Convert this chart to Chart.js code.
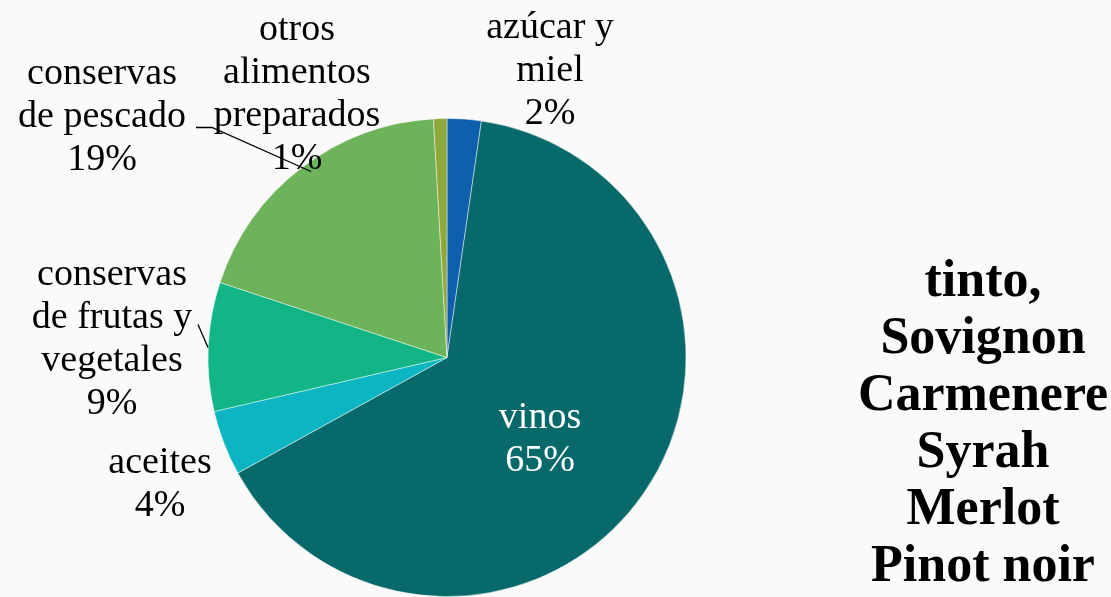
<!DOCTYPE html>
<html>
<head>
<meta charset="utf-8">
<script src="https://cdn.jsdelivr.net/npm/chart.js@4.4.0/dist/chart.umd.min.js"></script>
<style>
  html, body { margin: 0; padding: 0; background: #fafafa; }
  #wrap { position: relative; width: 1111px; height: 597px; overflow: hidden; }
  #pie { position: absolute; left: 0; top: 0; }
  #side {
    position: absolute; left: 855px; top: 250px; width: 256px;
    font-family: "Liberation Serif", serif; font-weight: bold;
    font-size: 52px; line-height: 57px; text-align: center; color: #000;
    white-space: nowrap;
  }
</style>
</head>
<body>
<div id="wrap">
  <canvas id="pie" width="1111" height="597"></canvas>
  <div id="side">tinto,<br>Sovignon<br>Carmenere<br>Syrah<br>Merlot<br>Pinot noir</div>
</div>
<script>
// slices, clockwise from the top
var categories = ['azúcar y miel', 'vinos', 'aceites', 'conservas de frutas y vegetales', 'conservas de pescado', 'otros alimentos preparados'];
var labelLines = [['azúcar y', 'miel'], ['vinos'], ['aceites'], ['conservas', 'de frutas y', 'vegetales'], ['conservas', 'de pescado'], ['otros', 'alimentos', 'preparados']];
var shares = [2.3, 64.6, 4.4, 8.7, 19.0, 0.9];
var colors = ['#0e5fae', '#07696a', '#0bb5c2', '#12b586', '#6cb35a', '#8fa83c'];

// where each label block sits, relative to the pie centre
var labelOffsets = [[103, -286], [93, 82], [-287, 127], [-335, -18], [-345, -240], [-150, -263]];
var labelColors = ['#000', '#fff', '#000', '#000', '#000', '#000'];
// leader lines, relative to the pie centre
var leaders = [
  [[-251, -230], [-235, -230], [-136, -186]],
  [[-249, -33], [-239, -10]]
];

var labelPlugin = {
  id: 'sliceLabels',
  afterDatasetsDraw: function(chart) {
    var ctx = chart.ctx;
    var arcs = chart.getDatasetMeta(0).data;
    var total = shares.reduce(function(a, b) { return a + b; }, 0);
    var cx = arcs[0].x, cy = arcs[0].y;
    ctx.save();
    ctx.strokeStyle = '#000';
    ctx.lineWidth = 1.3;
    leaders.forEach(function(pts) {
      ctx.beginPath();
      pts.forEach(function(p, i) {
        if (i === 0) ctx.moveTo(cx + p[0], cy + p[1]);
        else ctx.lineTo(cx + p[0], cy + p[1]);
      });
      ctx.stroke();
    });
    ctx.font = '38px "Liberation Serif", serif';
    ctx.textAlign = 'center';
    ctx.textBaseline = 'middle';
    var lh = 43;
    arcs.forEach(function(arc, i) {
      var lines = labelLines[i].concat([Math.round(shares[i] / total * 100) + '%']);
      var x = arc.x + labelOffsets[i][0];
      var y0 = arc.y + labelOffsets[i][1] - (lines.length - 1) * lh / 2;
      ctx.fillStyle = labelColors[i];
      lines.forEach(function(t, j) {
        ctx.fillText(t, x, y0 + j * lh);
      });
    });
    ctx.restore();
  }
};

new Chart(document.getElementById('pie').getContext('2d'), {
  type: 'pie',
  data: {
    labels: categories,
    datasets: [{
      data: shares,
      backgroundColor: colors,
      borderColor: 'rgba(255,255,255,0.45)',
      borderWidth: 1
    }]
  },
  options: {
    responsive: false,
    animation: false,
    layout: { padding: { left: 0, right: 217, top: 118, bottom: -1 } },
    plugins: {
      legend: { display: false },
      tooltip: { enabled: false }
    }
  },
  plugins: [labelPlugin]
});
</script>
</body>
</html>
